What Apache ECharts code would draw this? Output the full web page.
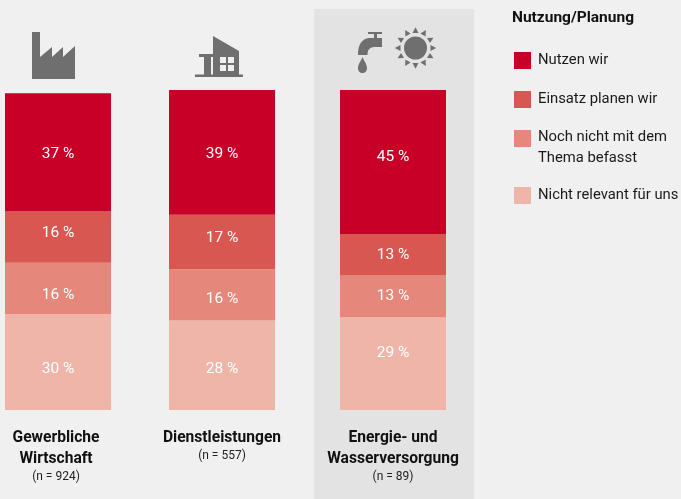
<!DOCTYPE html>
<html><head><meta charset="utf-8">
<style>html,body{margin:0;padding:0;background:#f0f0f0}#c{width:681px;height:499px}</style>
<script src="https://cdn.jsdelivr.net/npm/echarts@6/dist/echarts.min.js"></script>
</head><body><div id="c"></div>
<script>
const sectors = ['Gewerbliche\nWirtschaft', 'Dienstleistungen', 'Energie- und\nWasserversorgung'];
const sampleSizes = [924, 557, 89];
const seriesNames = ['Nutzen wir', 'Einsatz planen wir', 'Noch nicht mit dem\nThema befasst', 'Nicht relevant für uns'];
const nutzenWir = [37, 39, 45];
const einsatzPlanen = [16, 17, 13];
const nochNicht = [16, 16, 13];
const nichtRelevant = [30, 28, 29];
const colors = ['#c80028', '#d95751', '#e5877b', '#efb5a8'];
// vertical nudges of the value labels, as in the reference
const labelNudges = [[1.5, 1.5, -4.5], [-4, -3.5, 0.5], [6.5, 4, 0], [7.5, 3.5, -10.5]];

const FONT = 'Roboto,"Liberation Sans",sans-serif';
const values = [nutzenWir, einsatzPlanen, nochNicht, nichtRelevant];
const stackOrder = [3, 2, 1, 0];
const gridLefts = [5, 169, 340];

const grids = gridLefts.map(l => ({left: l, width: 106, top: 90, height: 320}));
const xAxes = sectors.map((s, i) => ({
  type: 'category', gridIndex: i, data: [s],
  axisLine: {show: false}, axisTick: {show: false},
  axisLabel: {
    margin: 18, interval: 0, verticalAlign: 'top', padding: i === 0 ? [0, 4, 0, 0] : 0,
    formatter: v => v.split('\n').map(t => '{b|' + t + '}').join('\n') + '\n{n|(n = ' + sampleSizes[i] + ')}',
    rich: {
      b: {fontFamily: FONT, fontSize: 15.6, fontWeight: 'bold', color: '#111', lineHeight: 21, align: 'center'},
      n: {fontFamily: FONT, fontSize: 12, color: '#222', lineHeight: 14, align: 'center'}
    }
  }
}));
const yAxes = sectors.map((s, i) => ({
  type: 'value', gridIndex: i, min: 0, max: 100, show: false
}));
const series = [];
sectors.forEach((s, i) => {
  stackOrder.forEach(k => {
    series.push({
      type: 'bar', name: seriesNames[k], xAxisIndex: i, yAxisIndex: i, stack: 's' + i,
      barWidth: '100%', data: [values[k][i]], silent: true,
      itemStyle: {color: colors[k]},
      label: {show: true, position: 'inside', formatter: '{c} %', color: '#fff',
        fontFamily: FONT, fontSize: 15.5, offset: [0, labelNudges[k][i]]}
    });
  });
});
const squareIcon = 'path://M0 0H17V17H0Z';
const tallIcon = 'path://M0 0L0 0ZM0 3.5H17V20.5H0ZM17 42L17 42Z';
const legendTops = [49.5, 88.5, 126.5, 184.5];
const legends = seriesNames.map((n, i) => ({
  data: [{name: n, icon: i === 2 ? tallIcon : squareIcon}],
  left: 514, top: legendTops[i], orient: 'vertical', padding: 0,
  itemWidth: 17, itemHeight: i === 2 ? 42 : 17, itemGap: 0, selectedMode: false,
  textStyle: {fontFamily: FONT, fontSize: 14.8, color: '#1a1a1a', lineHeight: i === 2 ? 21 : 22, padding: [0, 0, 0, 2]}
}));
const G = '#706f6f';
const BG = '#f0f0f0';
const poly = (pts, fill) => ({type: 'polygon', shape: {points: pts}, style: {fill: fill || G}, silent: true});
const rect = (x, y, w, h, fill) => ({type: 'rect', shape: {x, y, width: w, height: h}, style: {fill: fill || G}, silent: true});
echarts.graphic.registerShape('tapBody', echarts.graphic.extendPath('M368 32H382V34H377V38H382V47H376C371 47 367.5 48 367.5 55H358C358 44 362 39 369 38H374V34H368Z'));
echarts.graphic.registerShape('tapDrop', echarts.graphic.extendPath('M362.5 57C361 61 358 64 358 68C358 71 360 73 362.5 73C365 73 367 71 367 68C367 64 364 61 362.5 57Z'));
const sunRays = [];
for (let a = 0; a < 12; a++) {
  sunRays.push({type: 'polygon', x: 415.5, y: 48, rotation: a * Math.PI / 6, silent: true,
    shape: {points: [[-3, -15], [3, -15], [0, -20.7]]}, style: {fill: G}});
}
const graphic = [
  {type: 'rect', shape: {x: 314, y: 9, width: 160, height: 490}, style: {fill: '#e3e3e3'}, z: -1, silent: true},
  {type: 'text', x: 512, y: 10, silent: true,
   style: {text: 'Nutzung/Planung', fontFamily: FONT, fontSize: 15.5, fontWeight: 'bold', fill: '#111'}},
  // factory
  poly([[32, 32], [40, 32], [40, 57], [52, 47], [52, 57], [63, 47], [63, 57], [75, 46], [75, 79], [32, 79]]),
  // building
  poly([[213, 36], [239, 51], [239, 75], [213, 75]]),
  rect(199, 54, 14, 3), rect(204, 57, 7, 18), rect(195, 74.5, 48, 2.5),
  rect(220, 57, 6, 6, BG), rect(228, 57, 6, 6, BG), rect(220, 65, 6, 6, BG), rect(228, 65, 6, 6, BG),
  // tap
  {type: 'tapBody', silent: true, style: {fill: G}},
  {type: 'tapDrop', silent: true, style: {fill: G}},
  // sun
  {type: 'circle', silent: true, shape: {cx: 415.5, cy: 48, r: 11.5}, style: {fill: G}},
  ...sunRays
];
const chart = echarts.init(document.getElementById('c'), null, {renderer: 'canvas'});
chart.setOption({
  backgroundColor: BG, animation: false,
  grid: grids, xAxis: xAxes, yAxis: yAxes, series, legend: legends, graphic, tooltip: {show: false}
});
</script></body></html>
